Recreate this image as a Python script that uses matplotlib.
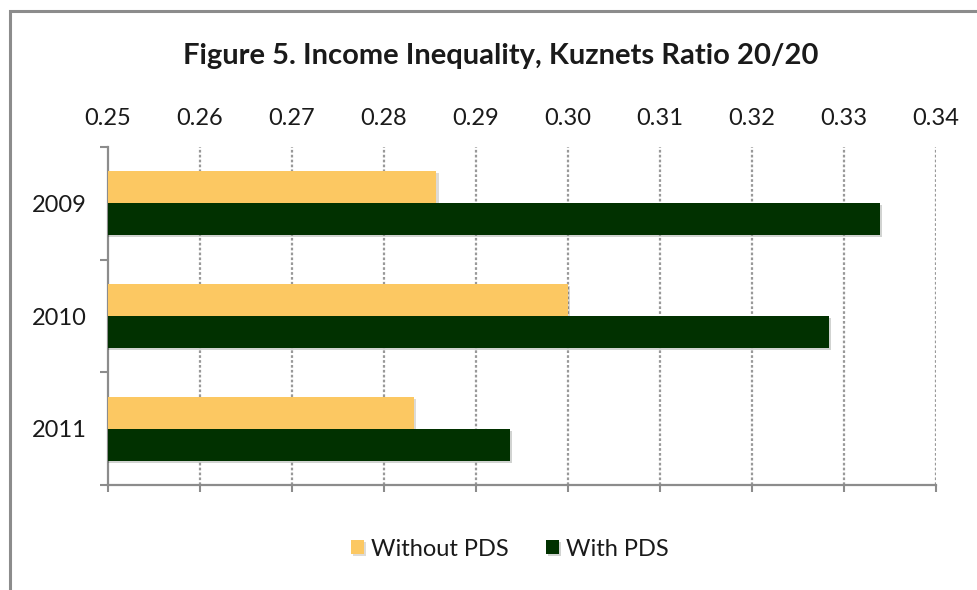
import matplotlib
matplotlib.use("Agg")
import numpy as np
import matplotlib.pyplot as plt
import matplotlib.patheffects as pe
from matplotlib.patches import Rectangle

plt.rcParams["font.family"] = ["Lato", "DejaVu Sans"]

years = ["2009", "2010", "2011"]
without_pds = [0.2857, 0.3000, 0.2833]
with_pds = [0.3339, 0.3284, 0.2937]
xticks = [0.25, 0.26, 0.27, 0.28, 0.29, 0.30, 0.31, 0.32, 0.33, 0.34]

c_without = "#fcc862"
c_with = "#013100"
grey = "#8c8c8c"
ink = "#1a1a1a"

fig = plt.figure(figsize=(9.77, 5.90), dpi=100)
# outer chart-area frame, running off the right and bottom edges
fig.patches.append(Rectangle((10 / 977, -0.1), 1.2, 1.1 - 11 / 590,
                             transform=fig.transFigure, fill=False,
                             edgecolor=grey, linewidth=2.2))

ax = fig.add_axes([108 / 977, 105 / 590, 828 / 977, 338 / 590])

y = np.arange(len(years))
h = 0.284
shadow = [pe.SimplePatchShadow(offset=(1.5, -1.5), alpha=0.18), pe.Normal()]
b1 = ax.barh(y - h / 2, without_pds, height=h, color=c_without, zorder=3,
             label="Without PDS")
b2 = ax.barh(y + h / 2, with_pds, height=h, color=c_with, zorder=3,
             label="With PDS")
for bar in list(b1) + list(b2):
    bar.set_path_effects(shadow)

ax.set_xlim(0.25, 0.34)
ax.set_ylim(2.5, -0.5)

ax.set_xticks(xticks)
ax.set_xticklabels([f"{v:.2f}" for v in xticks])
ax.tick_params(axis="x", top=False, bottom=True, labeltop=True,
               labelbottom=False, direction="out", length=5, width=1.5,
               color=grey, labelsize=17, pad=8, labelcolor=ink)
for v in xticks[1:]:
    ax.axvline(v, color="#999999", linestyle=(0, (1.2, 1.0)), linewidth=1.6,
               zorder=1)

ax.set_yticks(y)
ax.set_yticklabels(years)
ax.set_yticks([-0.5, 0.5, 1.5, 2.5], minor=True)
ax.tick_params(axis="y", which="major", length=0, labelsize=17, pad=15,
               labelcolor=ink)
ax.tick_params(axis="y", which="minor", length=6, width=1.5, color=grey)

for side in ["top", "right"]:
    ax.spines[side].set_visible(False)
for side in ["left", "bottom"]:
    ax.spines[side].set_color(grey)
    ax.spines[side].set_linewidth(1.6)

fig.text(501 / 977, 1 - 56 / 590, "Figure 5. Income Inequality, Kuznets Ratio 20/20",
         ha="center", va="center", fontsize=21, fontweight="bold", color=ink)

fig.legend(handles=[b1, b2], loc="center", bbox_to_anchor=(510 / 977, 1 - 549 / 590),
           ncol=2, frameon=False, fontsize=17, handlelength=0.55,
           handleheight=0.55, handletextpad=0.3, columnspacing=1.6,
           labelcolor=ink)

fig.savefig("out.png", dpi=100)
